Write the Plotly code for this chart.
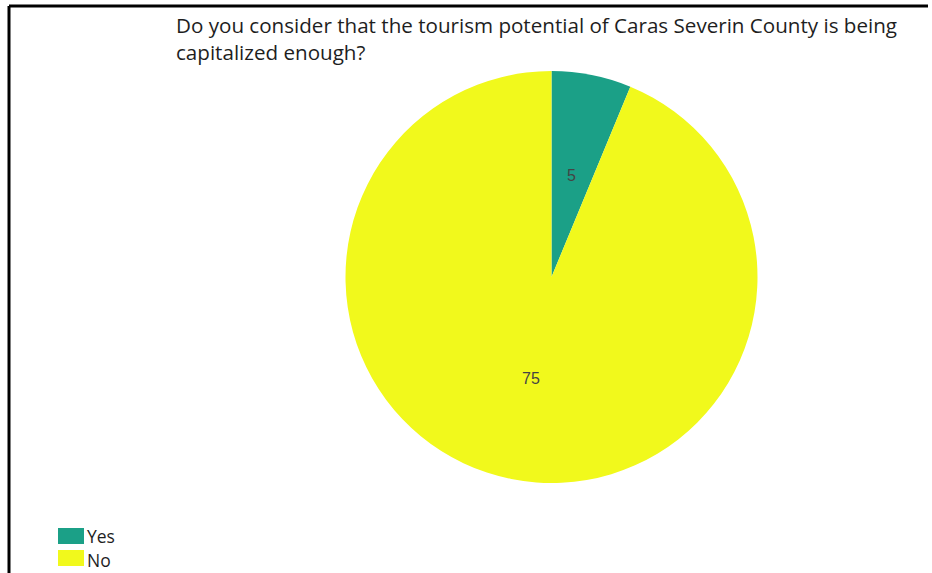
import math
import plotly.graph_objects as go

# Survey answers
categories = ["Yes", "No"]
counts = [5, 75]
colors = ["#1ba087", "#f1f91c"]

title_lines = [
    "Do you consider that the tourism potential of Caras Severin County is being",
    "capitalized enough?",
]

W, H = 932, 573
cx, cy, r = 551.5, 277.0, 206.0  # pie centre and radius in pixels


def px_x(x):
    return x / W


def px_y(y):
    return 1 - y / H


fig = go.Figure(
    go.Pie(
        labels=categories,
        values=counts,
        marker=dict(colors=colors, line=dict(width=0)),
        sort=False,
        direction="clockwise",
        rotation=0,
        textinfo="none",
        hoverinfo="label+value",
        showlegend=False,
        domain=dict(
            x=[px_x(cx - r), px_x(cx + r)],
            y=[px_y(cy + r), px_y(cy - r)],
        ),
    )
)

# Value labels placed halfway out along each slice's middle angle
annotations = []
total = sum(counts)
start = 0.0
for cat, v in zip(categories, counts):
    mid = (start + v / 2) / total * 2 * math.pi
    start += v
    lx = cx + 0.5 * r * math.sin(mid)
    ly = cy - 0.5 * r * math.cos(mid)
    annotations.append(
        dict(
            x=px_x(lx), y=px_y(ly), xref="paper", yref="paper",
            text=str(v), showarrow=False,
            font=dict(family="Liberation Sans, Arial", size=16, color="#444444"),
            xanchor="center", yanchor="middle",
        )
    )

# Title
annotations.append(
    dict(
        x=px_x(174), y=px_y(9), xref="paper", yref="paper",
        text="<br>".join(title_lines), showarrow=False,
        xanchor="left", yanchor="top", align="left",
        font=dict(family="Open Sans", size=20.6, color="#1e1e1e"),
    )
)

# Legend: colour swatches with category names
shapes = []
leg_x0, leg_y0, sw_w, sw_h, step = 58, 528, 26, 16, 22
for i, (cat, col) in enumerate(zip(categories, colors)):
    y0 = leg_y0 + i * step
    shapes.append(
        dict(type="rect", xref="paper", yref="paper",
             x0=px_x(leg_x0), x1=px_x(leg_x0 + sw_w),
             y0=px_y(y0 + sw_h), y1=px_y(y0),
             fillcolor=col, line=dict(width=0))
    )
    annotations.append(
        dict(
            x=px_x(leg_x0 + sw_w + 1), y=px_y(536 + i * 24), xref="paper", yref="paper",
            text=cat, showarrow=False, xanchor="left", yanchor="middle",
            font=dict(family="Open Sans", size=17.5, color="#1e1e1e"),
        )
    )

# Frame lines along the top and left edges
shapes.append(dict(type="line", xref="paper", yref="paper",
                   x0=px_x(9), x1=px_x(928), y0=px_y(6), y1=px_y(6),
                   line=dict(color="black", width=3)))
shapes.append(dict(type="line", xref="paper", yref="paper",
                   x0=px_x(9), x1=px_x(9), y0=px_y(6), y1=0,
                   line=dict(color="black", width=3)))

fig.update_layout(
    width=W, height=H,
    margin=dict(l=0, r=0, t=0, b=0),
    paper_bgcolor="white", plot_bgcolor="white",
    annotations=annotations, shapes=shapes,
)

fig.write_html("out.html")
